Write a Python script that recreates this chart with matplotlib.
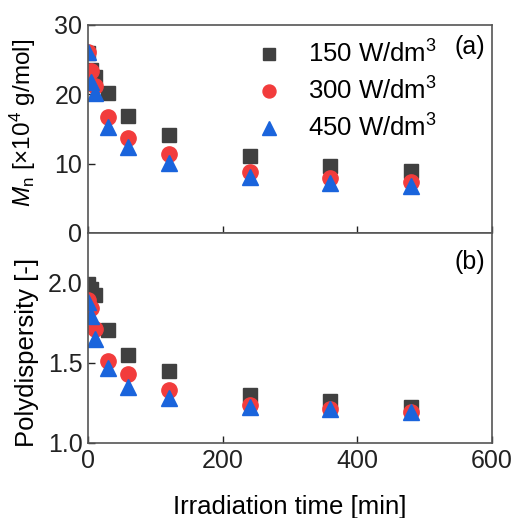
import matplotlib
matplotlib.use("Agg")
import matplotlib.pyplot as plt

plt.rcParams['font.family'] = ['Liberation Sans', 'DejaVu Sans']
plt.rcParams['mathtext.fontset'] = 'custom'
plt.rcParams['mathtext.rm'] = 'Liberation Sans'
plt.rcParams['mathtext.it'] = 'Liberation Sans:italic'

time = [0, 5, 10, 30, 60, 120, 240, 360, 480]
series_labels = ["150 W/dm$^3$", "300 W/dm$^3$", "450 W/dm$^3$"]
mn_150 = [26.0, 23.5, 22.5, 20.2, 16.9, 14.1, 11.1, 9.7, 8.95]
mn_300 = [26.1, 23.3, 21.2, 16.7, 13.7, 11.4, 8.85, 8.0, 7.4]
mn_450 = [26.1, 21.8, 20.2, 15.3, 12.4, 10.1, 8.1, 7.2, 6.8]
pd_150 = [1.99, 1.96, 1.925, 1.706, 1.55, 1.45, 1.30, 1.265, 1.225]
pd_300 = [1.89, 1.84, 1.71, 1.51, 1.43, 1.33, 1.235, 1.21, 1.195]
pd_450 = [1.88, 1.79, 1.65, 1.47, 1.35, 1.28, 1.225, 1.215, 1.195]

colors = ['#404040', '#f23c3c', '#1a64dc']
markers = ['s', 'o', '^']
sizes = [10, 11, 12]

fig = plt.figure(figsize=(5.16, 5.18), dpi=100)
W, H = 516, 518
left, right = 88 / W, 492 / W
ax1 = fig.add_axes([left, 1 - 233 / H, right - left, (233 - 25) / H])
ax2 = fig.add_axes([left, 1 - 443 / H, right - left, (443 - 233) / H], sharex=ax1)

for ys, c, m, s, lab in zip([mn_150, mn_300, mn_450], colors, markers, sizes, series_labels):
    ax1.plot(time, ys, linestyle='none', marker=m, color=c, markersize=s, label=lab)
for ys, c, m, s in zip([pd_150, pd_300, pd_450], colors, markers, sizes):
    ax2.plot(time, ys, linestyle='none', marker=m, color=c, markersize=s)

ax1.set_ylim(0, 30)
ax1.set_yticks([0, 10, 20, 30])
ax2.set_ylim(1.0, 2.31)
ax2.set_yticks([1.0, 1.5, 2.0])
ax2.set_yticklabels(['1.0', '1.5', '2.0'])
ax2.set_xlim(0, 600)
ax2.set_xticks([0, 200, 400, 600])

for ax in (ax1, ax2):
    ax.tick_params(direction='in', length=5, width=1, labelsize=18, colors='#222222', pad=4)
    for sp in ax.spines.values():
        sp.set_linewidth(1.2)
        sp.set_color('#555555')
ax1.tick_params(labelbottom=False)

ax1.set_ylabel("$\\mathit{M}_\\mathrm{n}$ [×10$^4$ g/mol]", fontsize=17.5)
ax2.set_ylabel("Polydispersity [-]", fontsize=18.5)
ax2.set_xlabel("Irradiation time [min]", fontsize=18.5, labelpad=16)
ax1.yaxis.set_label_coords(-0.125, 0.53)
ax2.yaxis.set_label_coords(-0.122, 0.43)

ax1.text(0.983, 0.894, "(a)", transform=ax1.transAxes, ha='right', va='center', fontsize=18)
ax2.text(0.983, 0.862, "(b)", transform=ax2.transAxes, ha='right', va='center', fontsize=18)

ax1.legend(loc='upper right', bbox_to_anchor=(0.92, 1.035), frameon=False, fontsize=18.5,
           handletextpad=0.9, labelspacing=0.38, handlelength=1.2, markerscale=0.85)

fig.savefig("out.png", dpi=100)
